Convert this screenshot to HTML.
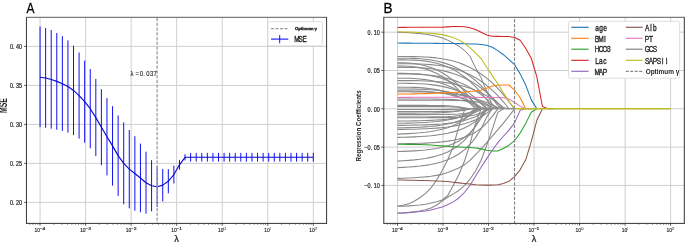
<!DOCTYPE html>
<html><head><meta charset="utf-8"><style>
html,body{margin:0;padding:0;background:#fff;overflow:hidden;width:685px;height:244px;}
svg{display:block;will-change:transform;font-family:"Liberation Sans", sans-serif;}
</style></head><body>
<svg width="685" height="244" viewBox="0 0 685 244">
<rect x="0" y="0" width="685" height="244" fill="#fff"/>
<line x1="40.06" y1="17.3" x2="40.06" y2="223.4" stroke="#cfcfcf" stroke-width="1"/>
<line x1="85.6" y1="17.3" x2="85.6" y2="223.4" stroke="#cfcfcf" stroke-width="1"/>
<line x1="131.14" y1="17.3" x2="131.14" y2="223.4" stroke="#cfcfcf" stroke-width="1"/>
<line x1="176.68" y1="17.3" x2="176.68" y2="223.4" stroke="#cfcfcf" stroke-width="1"/>
<line x1="222.22" y1="17.3" x2="222.22" y2="223.4" stroke="#cfcfcf" stroke-width="1"/>
<line x1="267.76" y1="17.3" x2="267.76" y2="223.4" stroke="#cfcfcf" stroke-width="1"/>
<line x1="313.3" y1="17.3" x2="313.3" y2="223.4" stroke="#cfcfcf" stroke-width="1"/>
<line x1="26.45" y1="202.4" x2="326.6" y2="202.4" stroke="#cfcfcf" stroke-width="1"/>
<line x1="26.45" y1="163.4" x2="326.6" y2="163.4" stroke="#cfcfcf" stroke-width="1"/>
<line x1="26.45" y1="124.4" x2="326.6" y2="124.4" stroke="#cfcfcf" stroke-width="1"/>
<line x1="26.45" y1="85.4" x2="326.6" y2="85.4" stroke="#cfcfcf" stroke-width="1"/>
<line x1="26.45" y1="46.4" x2="326.6" y2="46.4" stroke="#cfcfcf" stroke-width="1"/>
<line x1="40.06" y1="26.5" x2="40.06" y2="127.1" stroke="#1010f0" stroke-width="1"/>
<line x1="45.64" y1="28" x2="45.64" y2="127.8" stroke="#1010f0" stroke-width="1"/>
<line x1="51.21" y1="30" x2="51.21" y2="128.7" stroke="#1010f0" stroke-width="1"/>
<line x1="56.79" y1="33" x2="56.79" y2="129.7" stroke="#1010f0" stroke-width="1"/>
<line x1="62.37" y1="36.1" x2="62.37" y2="130.9" stroke="#1010f0" stroke-width="1"/>
<line x1="67.94" y1="40.4" x2="67.94" y2="132.7" stroke="#1010f0" stroke-width="1"/>
<line x1="73.52" y1="45.7" x2="73.52" y2="135.2" stroke="#1010f0" stroke-width="1"/>
<line x1="79.09" y1="52.5" x2="79.09" y2="138.6" stroke="#1010f0" stroke-width="1"/>
<line x1="84.67" y1="60.6" x2="84.67" y2="142.7" stroke="#1010f0" stroke-width="1"/>
<line x1="90.25" y1="69.1" x2="90.25" y2="148.3" stroke="#1010f0" stroke-width="1"/>
<line x1="95.82" y1="78.95" x2="95.82" y2="156.2" stroke="#1010f0" stroke-width="1"/>
<line x1="101.4" y1="89.2" x2="101.4" y2="165.2" stroke="#1010f0" stroke-width="1"/>
<line x1="106.98" y1="98.1" x2="106.98" y2="175.4" stroke="#1010f0" stroke-width="1"/>
<line x1="112.55" y1="106.2" x2="112.55" y2="185.6" stroke="#1010f0" stroke-width="1"/>
<line x1="118.13" y1="115.4" x2="118.13" y2="195.9" stroke="#1010f0" stroke-width="1"/>
<line x1="123.7" y1="122.4" x2="123.7" y2="204.3" stroke="#1010f0" stroke-width="1"/>
<line x1="129.28" y1="130" x2="129.28" y2="208.3" stroke="#1010f0" stroke-width="1"/>
<line x1="134.86" y1="136.2" x2="134.86" y2="210.7" stroke="#1010f0" stroke-width="1"/>
<line x1="140.43" y1="143.6" x2="140.43" y2="212.3" stroke="#1010f0" stroke-width="1"/>
<line x1="146.01" y1="151.7" x2="146.01" y2="213.7" stroke="#1010f0" stroke-width="1"/>
<line x1="151.59" y1="160.2" x2="151.59" y2="211.3" stroke="#1010f0" stroke-width="1"/>
<line x1="157.16" y1="166" x2="157.16" y2="207" stroke="#1010f0" stroke-width="1"/>
<line x1="162.74" y1="168.9" x2="162.74" y2="201.4" stroke="#1010f0" stroke-width="1"/>
<line x1="168.32" y1="169.2" x2="168.32" y2="193.3" stroke="#1010f0" stroke-width="1"/>
<line x1="173.89" y1="165.7" x2="173.89" y2="183.4" stroke="#1010f0" stroke-width="1"/>
<line x1="179.47" y1="159.9" x2="179.47" y2="169.7" stroke="#1010f0" stroke-width="1"/>
<line x1="185.04" y1="154.2" x2="185.04" y2="160.4" stroke="#1010f0" stroke-width="1"/>
<line x1="190.62" y1="152.9" x2="190.62" y2="161.6" stroke="#1010f0" stroke-width="1"/>
<line x1="196.2" y1="152.9" x2="196.2" y2="161.6" stroke="#1010f0" stroke-width="1"/>
<line x1="201.77" y1="152.9" x2="201.77" y2="161.6" stroke="#1010f0" stroke-width="1"/>
<line x1="207.35" y1="152.9" x2="207.35" y2="161.6" stroke="#1010f0" stroke-width="1"/>
<line x1="212.93" y1="152.9" x2="212.93" y2="161.6" stroke="#1010f0" stroke-width="1"/>
<line x1="218.5" y1="152.9" x2="218.5" y2="161.6" stroke="#1010f0" stroke-width="1"/>
<line x1="224.08" y1="152.9" x2="224.08" y2="161.6" stroke="#1010f0" stroke-width="1"/>
<line x1="229.66" y1="152.9" x2="229.66" y2="161.6" stroke="#1010f0" stroke-width="1"/>
<line x1="235.23" y1="152.9" x2="235.23" y2="161.6" stroke="#1010f0" stroke-width="1"/>
<line x1="240.81" y1="152.9" x2="240.81" y2="161.6" stroke="#1010f0" stroke-width="1"/>
<line x1="246.38" y1="152.9" x2="246.38" y2="161.6" stroke="#1010f0" stroke-width="1"/>
<line x1="251.96" y1="152.9" x2="251.96" y2="161.6" stroke="#1010f0" stroke-width="1"/>
<line x1="257.54" y1="152.9" x2="257.54" y2="161.6" stroke="#1010f0" stroke-width="1"/>
<line x1="263.11" y1="152.9" x2="263.11" y2="161.6" stroke="#1010f0" stroke-width="1"/>
<line x1="268.69" y1="152.9" x2="268.69" y2="161.6" stroke="#1010f0" stroke-width="1"/>
<line x1="274.27" y1="152.9" x2="274.27" y2="161.6" stroke="#1010f0" stroke-width="1"/>
<line x1="279.84" y1="152.9" x2="279.84" y2="161.6" stroke="#1010f0" stroke-width="1"/>
<line x1="285.42" y1="152.9" x2="285.42" y2="161.6" stroke="#1010f0" stroke-width="1"/>
<line x1="290.99" y1="152.9" x2="290.99" y2="161.6" stroke="#1010f0" stroke-width="1"/>
<line x1="296.57" y1="152.9" x2="296.57" y2="161.6" stroke="#1010f0" stroke-width="1"/>
<line x1="302.15" y1="152.9" x2="302.15" y2="161.6" stroke="#1010f0" stroke-width="1"/>
<line x1="307.72" y1="152.9" x2="307.72" y2="161.6" stroke="#1010f0" stroke-width="1"/>
<line x1="313.3" y1="152.9" x2="313.3" y2="161.6" stroke="#1010f0" stroke-width="1"/>
<polyline points="40.06,77.3 45.64,78 51.21,79.5 56.79,81.4 62.37,83.8 67.94,86.55 73.52,90.45 79.09,95.55 84.67,101.65 90.25,108.7 95.82,117.6 101.4,127.2 106.98,136.75 112.55,145.9 118.13,155.65 123.7,163.35 129.28,169.15 134.86,173.45 140.43,177.95 146.01,182.7 151.59,185.75 157.16,186.8 162.74,185.15 168.32,181.25 173.89,174.55 179.47,164.8 185.04,157.3 190.62,157.25 196.2,157.25 201.77,157.25 207.35,157.25 212.93,157.25 218.5,157.25 224.08,157.25 229.66,157.25 235.23,157.25 240.81,157.25 246.38,157.25 251.96,157.25 257.54,157.25 263.11,157.25 268.69,157.25 274.27,157.25 279.84,157.25 285.42,157.25 290.99,157.25 296.57,157.25 302.15,157.25 307.72,157.25 313.3,157.25" fill="none" stroke="#0808d0" stroke-width="1.15" stroke-linejoin="round"/>
<line x1="157.12" y1="17.3" x2="157.12" y2="223.4" stroke="#a4a4a4" stroke-width="1.4" stroke-dasharray="3.3,1.45" stroke-dashoffset="4.1"/>
<text transform="scale(0.8500,1)" x="153.67 159.37 164.47 168.56 172.17 176.43 180.7" y="75.8" font-family='"Liberation Sans", sans-serif' font-weight="normal" font-size="7.0" fill="#262626" stroke="#262626" stroke-width="0.15">λ=0.037</text>
<line x1="29.96" y1="223.4" x2="29.96" y2="224.8" stroke="#333333" stroke-width="0.6"/>
<line x1="33.01" y1="223.4" x2="33.01" y2="224.8" stroke="#333333" stroke-width="0.6"/>
<line x1="35.65" y1="223.4" x2="35.65" y2="224.8" stroke="#333333" stroke-width="0.6"/>
<line x1="37.98" y1="223.4" x2="37.98" y2="224.8" stroke="#333333" stroke-width="0.6"/>
<line x1="40.06" y1="223.4" x2="40.06" y2="225.8" stroke="#333333" stroke-width="0.8"/>
<line x1="53.77" y1="223.4" x2="53.77" y2="224.8" stroke="#333333" stroke-width="0.6"/>
<line x1="61.79" y1="223.4" x2="61.79" y2="224.8" stroke="#333333" stroke-width="0.6"/>
<line x1="67.48" y1="223.4" x2="67.48" y2="224.8" stroke="#333333" stroke-width="0.6"/>
<line x1="71.89" y1="223.4" x2="71.89" y2="224.8" stroke="#333333" stroke-width="0.6"/>
<line x1="75.5" y1="223.4" x2="75.5" y2="224.8" stroke="#333333" stroke-width="0.6"/>
<line x1="78.55" y1="223.4" x2="78.55" y2="224.8" stroke="#333333" stroke-width="0.6"/>
<line x1="81.19" y1="223.4" x2="81.19" y2="224.8" stroke="#333333" stroke-width="0.6"/>
<line x1="83.52" y1="223.4" x2="83.52" y2="224.8" stroke="#333333" stroke-width="0.6"/>
<line x1="85.6" y1="223.4" x2="85.6" y2="225.8" stroke="#333333" stroke-width="0.8"/>
<line x1="99.31" y1="223.4" x2="99.31" y2="224.8" stroke="#333333" stroke-width="0.6"/>
<line x1="107.33" y1="223.4" x2="107.33" y2="224.8" stroke="#333333" stroke-width="0.6"/>
<line x1="113.02" y1="223.4" x2="113.02" y2="224.8" stroke="#333333" stroke-width="0.6"/>
<line x1="117.43" y1="223.4" x2="117.43" y2="224.8" stroke="#333333" stroke-width="0.6"/>
<line x1="121.04" y1="223.4" x2="121.04" y2="224.8" stroke="#333333" stroke-width="0.6"/>
<line x1="124.09" y1="223.4" x2="124.09" y2="224.8" stroke="#333333" stroke-width="0.6"/>
<line x1="126.73" y1="223.4" x2="126.73" y2="224.8" stroke="#333333" stroke-width="0.6"/>
<line x1="129.06" y1="223.4" x2="129.06" y2="224.8" stroke="#333333" stroke-width="0.6"/>
<line x1="131.14" y1="223.4" x2="131.14" y2="225.8" stroke="#333333" stroke-width="0.8"/>
<line x1="144.85" y1="223.4" x2="144.85" y2="224.8" stroke="#333333" stroke-width="0.6"/>
<line x1="152.87" y1="223.4" x2="152.87" y2="224.8" stroke="#333333" stroke-width="0.6"/>
<line x1="158.56" y1="223.4" x2="158.56" y2="224.8" stroke="#333333" stroke-width="0.6"/>
<line x1="162.97" y1="223.4" x2="162.97" y2="224.8" stroke="#333333" stroke-width="0.6"/>
<line x1="166.58" y1="223.4" x2="166.58" y2="224.8" stroke="#333333" stroke-width="0.6"/>
<line x1="169.63" y1="223.4" x2="169.63" y2="224.8" stroke="#333333" stroke-width="0.6"/>
<line x1="172.27" y1="223.4" x2="172.27" y2="224.8" stroke="#333333" stroke-width="0.6"/>
<line x1="174.6" y1="223.4" x2="174.6" y2="224.8" stroke="#333333" stroke-width="0.6"/>
<line x1="176.68" y1="223.4" x2="176.68" y2="225.8" stroke="#333333" stroke-width="0.8"/>
<line x1="190.39" y1="223.4" x2="190.39" y2="224.8" stroke="#333333" stroke-width="0.6"/>
<line x1="198.41" y1="223.4" x2="198.41" y2="224.8" stroke="#333333" stroke-width="0.6"/>
<line x1="204.1" y1="223.4" x2="204.1" y2="224.8" stroke="#333333" stroke-width="0.6"/>
<line x1="208.51" y1="223.4" x2="208.51" y2="224.8" stroke="#333333" stroke-width="0.6"/>
<line x1="212.12" y1="223.4" x2="212.12" y2="224.8" stroke="#333333" stroke-width="0.6"/>
<line x1="215.17" y1="223.4" x2="215.17" y2="224.8" stroke="#333333" stroke-width="0.6"/>
<line x1="217.81" y1="223.4" x2="217.81" y2="224.8" stroke="#333333" stroke-width="0.6"/>
<line x1="220.14" y1="223.4" x2="220.14" y2="224.8" stroke="#333333" stroke-width="0.6"/>
<line x1="222.22" y1="223.4" x2="222.22" y2="225.8" stroke="#333333" stroke-width="0.8"/>
<line x1="235.93" y1="223.4" x2="235.93" y2="224.8" stroke="#333333" stroke-width="0.6"/>
<line x1="243.95" y1="223.4" x2="243.95" y2="224.8" stroke="#333333" stroke-width="0.6"/>
<line x1="249.64" y1="223.4" x2="249.64" y2="224.8" stroke="#333333" stroke-width="0.6"/>
<line x1="254.05" y1="223.4" x2="254.05" y2="224.8" stroke="#333333" stroke-width="0.6"/>
<line x1="257.66" y1="223.4" x2="257.66" y2="224.8" stroke="#333333" stroke-width="0.6"/>
<line x1="260.71" y1="223.4" x2="260.71" y2="224.8" stroke="#333333" stroke-width="0.6"/>
<line x1="263.35" y1="223.4" x2="263.35" y2="224.8" stroke="#333333" stroke-width="0.6"/>
<line x1="265.68" y1="223.4" x2="265.68" y2="224.8" stroke="#333333" stroke-width="0.6"/>
<line x1="267.76" y1="223.4" x2="267.76" y2="225.8" stroke="#333333" stroke-width="0.8"/>
<line x1="281.47" y1="223.4" x2="281.47" y2="224.8" stroke="#333333" stroke-width="0.6"/>
<line x1="289.49" y1="223.4" x2="289.49" y2="224.8" stroke="#333333" stroke-width="0.6"/>
<line x1="295.18" y1="223.4" x2="295.18" y2="224.8" stroke="#333333" stroke-width="0.6"/>
<line x1="299.59" y1="223.4" x2="299.59" y2="224.8" stroke="#333333" stroke-width="0.6"/>
<line x1="303.2" y1="223.4" x2="303.2" y2="224.8" stroke="#333333" stroke-width="0.6"/>
<line x1="306.25" y1="223.4" x2="306.25" y2="224.8" stroke="#333333" stroke-width="0.6"/>
<line x1="308.89" y1="223.4" x2="308.89" y2="224.8" stroke="#333333" stroke-width="0.6"/>
<line x1="311.22" y1="223.4" x2="311.22" y2="224.8" stroke="#333333" stroke-width="0.6"/>
<line x1="313.3" y1="223.4" x2="313.3" y2="225.8" stroke="#333333" stroke-width="0.8"/>
<line x1="24.05" y1="202.4" x2="26.45" y2="202.4" stroke="#333333" stroke-width="0.8"/>
<text transform="scale(0.8500,1)" x="11.69 15.27 18.87 22.46" y="205.14" font-family='"Liberation Sans", sans-serif' font-weight="normal" font-size="6.4" fill="#262626" stroke="#262626" stroke-width="0.22">0.20</text>
<line x1="24.05" y1="163.4" x2="26.45" y2="163.4" stroke="#333333" stroke-width="0.8"/>
<text transform="scale(0.8500,1)" x="11.69 15.27 18.87 22.46" y="166.14" font-family='"Liberation Sans", sans-serif' font-weight="normal" font-size="6.4" fill="#262626" stroke="#262626" stroke-width="0.22">0.25</text>
<line x1="24.05" y1="124.4" x2="26.45" y2="124.4" stroke="#333333" stroke-width="0.8"/>
<text transform="scale(0.8500,1)" x="11.69 15.27 18.89 22.46" y="127.14" font-family='"Liberation Sans", sans-serif' font-weight="normal" font-size="6.4" fill="#262626" stroke="#262626" stroke-width="0.22">0.30</text>
<line x1="24.05" y1="85.4" x2="26.45" y2="85.4" stroke="#333333" stroke-width="0.8"/>
<text transform="scale(0.8500,1)" x="11.69 15.27 18.89 22.46" y="88.14" font-family='"Liberation Sans", sans-serif' font-weight="normal" font-size="6.4" fill="#262626" stroke="#262626" stroke-width="0.22">0.35</text>
<line x1="24.05" y1="46.4" x2="26.45" y2="46.4" stroke="#333333" stroke-width="0.8"/>
<text transform="scale(0.8500,1)" x="11.69 15.27 18.89 22.46" y="49.14" font-family='"Liberation Sans", sans-serif' font-weight="normal" font-size="6.4" fill="#262626" stroke="#262626" stroke-width="0.22">0.40</text>
<text transform="translate(34.59,232.2) scale(0.7926,1)" font-family='"Liberation Sans", sans-serif' font-weight="normal" font-size="6.2" fill="#262626" stroke="#262626" stroke-width="0.18" >10</text>
<text transform="translate(39.72,230.2) scale(1.1619,1)" font-family='"Liberation Sans", sans-serif' font-weight="normal" font-size="4.216" fill="#262626" stroke="#262626" stroke-width="0.2" >−4</text>
<text transform="translate(80.13,232.2) scale(0.7926,1)" font-family='"Liberation Sans", sans-serif' font-weight="normal" font-size="6.2" fill="#262626" stroke="#262626" stroke-width="0.18" >10</text>
<text transform="translate(85.26,230.2) scale(1.1782,1)" font-family='"Liberation Sans", sans-serif' font-weight="normal" font-size="4.216" fill="#262626" stroke="#262626" stroke-width="0.2" >−3</text>
<text transform="translate(125.67,232.2) scale(0.7926,1)" font-family='"Liberation Sans", sans-serif' font-weight="normal" font-size="6.2" fill="#262626" stroke="#262626" stroke-width="0.18" >10</text>
<text transform="translate(130.79,230.2) scale(1.1854,1)" font-family='"Liberation Sans", sans-serif' font-weight="normal" font-size="4.216" fill="#262626" stroke="#262626" stroke-width="0.2" >−2</text>
<text transform="translate(171.21,232.2) scale(0.7926,1)" font-family='"Liberation Sans", sans-serif' font-weight="normal" font-size="6.2" fill="#262626" stroke="#262626" stroke-width="0.18" >10</text>
<text transform="translate(176.33,230.2) scale(1.1837,1)" font-family='"Liberation Sans", sans-serif' font-weight="normal" font-size="4.216" fill="#262626" stroke="#262626" stroke-width="0.2" >−1</text>
<text transform="translate(218.1,232.2) scale(0.7926,1)" font-family='"Liberation Sans", sans-serif' font-weight="normal" font-size="6.2" fill="#262626" stroke="#262626" stroke-width="0.18" >10</text>
<text transform="translate(223.27,230.2) scale(1.2405,1)" font-family='"Liberation Sans", sans-serif' font-weight="normal" font-size="4.216" fill="#262626" >0</text>
<text transform="translate(264.34,232.2) scale(0.7926,1)" font-family='"Liberation Sans", sans-serif' font-weight="normal" font-size="6.2" fill="#262626" stroke="#262626" stroke-width="0.18" >10</text>
<text transform="translate(269.52,230.2) scale(0.6051,1)" font-family='"Liberation Sans", sans-serif' font-weight="normal" font-size="4.216" fill="#262626" >1</text>
<text transform="translate(309.18,232.2) scale(0.7926,1)" font-family='"Liberation Sans", sans-serif' font-weight="normal" font-size="6.2" fill="#262626" stroke="#262626" stroke-width="0.18" >10</text>
<text transform="translate(314.27,230.2) scale(1.3016,1)" font-family='"Liberation Sans", sans-serif' font-weight="normal" font-size="4.216" fill="#262626" >2</text>
<line x1="25.95" y1="17.3" x2="327.1" y2="17.3" stroke="#5c5c5c" stroke-width="1"/>
<line x1="25.95" y1="223.4" x2="327.1" y2="223.4" stroke="#333333" stroke-width="1"/>
<line x1="26.45" y1="17.3" x2="26.45" y2="223.4" stroke="#333333" stroke-width="1"/>
<line x1="326.6" y1="17.3" x2="326.6" y2="223.4" stroke="#333333" stroke-width="1"/>
<rect x="267.9" y="21.6" width="54.5" height="24.2" rx="1.6" fill="#fff" stroke="#d6d6d6" stroke-width="0.8"/>
<line x1="271.1" y1="28.6" x2="288.3" y2="28.6" stroke="#9a9a9a" stroke-width="1.2" stroke-dasharray="3.0,1.45"/>
<text transform="translate(295.03,30) scale(1.0526,1)" font-family='"Liberation Sans", sans-serif' font-weight="bold" font-size="4.0" fill="#262626" stroke="#262626" stroke-width="0.35" >Optimum γ</text>
<line x1="271.1" y1="39.1" x2="288.3" y2="39.1" stroke="#1010f0" stroke-width="1.1"/>
<line x1="279.7" y1="35.1" x2="279.7" y2="43.3" stroke="#1010f0" stroke-width="1"/>
<text transform="scale(0.7800,1)" x="377.16 382.84 387.68" y="42.4" font-family='"Liberation Sans", sans-serif' font-weight="normal" font-size="8.2" fill="#262626" stroke="#262626" stroke-width="0.35">MSE</text>
<text transform="translate(26.58,13) scale(0.7736,1)" font-family='"Liberation Sans", sans-serif' font-weight="normal" font-size="15.4" fill="#000" stroke="#000" stroke-width="0.3" >A</text>
<text transform="translate(174.34,242) scale(1.0207,1)" font-family='"Liberation Sans", sans-serif' font-weight="normal" font-size="8.9" fill="#262626" stroke="#262626" stroke-width="0.25" >λ</text>
<text transform="translate(7.1,112.6) rotate(-90) translate(-0.46,0) scale(0.6625,1)" font-family='"Liberation Sans", sans-serif' font-weight="bold" font-size="10.4" fill="#262626" >MSE</text>
<line x1="397.5" y1="17.3" x2="397.5" y2="223.4" stroke="#cfcfcf" stroke-width="1"/>
<line x1="443.02" y1="17.3" x2="443.02" y2="223.4" stroke="#cfcfcf" stroke-width="1"/>
<line x1="488.54" y1="17.3" x2="488.54" y2="223.4" stroke="#cfcfcf" stroke-width="1"/>
<line x1="534.06" y1="17.3" x2="534.06" y2="223.4" stroke="#cfcfcf" stroke-width="1"/>
<line x1="579.58" y1="17.3" x2="579.58" y2="223.4" stroke="#cfcfcf" stroke-width="1"/>
<line x1="625.1" y1="17.3" x2="625.1" y2="223.4" stroke="#cfcfcf" stroke-width="1"/>
<line x1="670.62" y1="17.3" x2="670.62" y2="223.4" stroke="#cfcfcf" stroke-width="1"/>
<line x1="383.8" y1="185.4" x2="684.3" y2="185.4" stroke="#cfcfcf" stroke-width="1"/>
<line x1="383.8" y1="147.1" x2="684.3" y2="147.1" stroke="#cfcfcf" stroke-width="1"/>
<line x1="383.8" y1="108.8" x2="684.3" y2="108.8" stroke="#cfcfcf" stroke-width="1"/>
<line x1="383.8" y1="70.5" x2="684.3" y2="70.5" stroke="#cfcfcf" stroke-width="1"/>
<line x1="383.8" y1="32.2" x2="684.3" y2="32.2" stroke="#cfcfcf" stroke-width="1"/>
<polyline points="397.5,99 403.07,99 408.65,99 414.22,99.01 419.8,99.02 425.37,99.03 430.94,99.06 436.52,99.11 442.09,99.19 447.66,99.33 453.24,99.59 458.81,100.04 464.39,100.82 469.96,102.21 475.53,104.64 481.11,108.8" fill="none" stroke="#8a8a8a" stroke-width="1.1" stroke-opacity="1.0" stroke-linejoin="round"/>
<polyline points="397.5,100.2 403.07,100.2 408.65,100.2 414.22,100.2 419.8,100.21 425.37,100.21 430.94,100.22 436.52,100.23 442.09,100.25 447.66,100.3 453.24,100.37 458.81,100.5 464.39,100.73 469.96,101.12 475.53,101.83 481.11,103.06 486.68,105.22 492.26,108.8" fill="none" stroke="#8a8a8a" stroke-width="1.1" stroke-opacity="1.0" stroke-linejoin="round"/>
<polyline points="397.5,105.4 403.07,105.4 408.65,105.4 414.22,105.41 419.8,105.41 425.37,105.42 430.94,105.45 436.52,105.5 442.09,105.6 447.66,105.81 453.24,106.23 458.81,107.08 464.39,108.79 469.96,108.8" fill="none" stroke="#8a8a8a" stroke-width="1.1" stroke-opacity="1.0" stroke-linejoin="round"/>
<polyline points="397.5,106.6 403.07,106.6 408.65,106.6 414.22,106.6 419.8,106.6 425.37,106.61 430.94,106.62 436.52,106.63 442.09,106.66 447.66,106.73 453.24,106.86 458.81,107.13 464.39,107.68 469.96,108.79 475.53,108.8" fill="none" stroke="#8a8a8a" stroke-width="1.1" stroke-opacity="1.0" stroke-linejoin="round"/>
<polyline points="397.5,109.5 403.07,109.5 408.65,109.5 414.22,109.5 419.8,109.5 425.37,109.5 430.94,109.49 436.52,109.48 442.09,109.46 447.66,109.42 453.24,109.33 458.81,109.15 464.39,108.8 469.96,108.8" fill="none" stroke="#8a8a8a" stroke-width="1.1" stroke-opacity="1.0" stroke-linejoin="round"/>
<polyline points="397.5,111.5 403.07,111.5 408.65,111.5 414.22,111.5 419.8,111.5 425.37,111.49 430.94,111.48 436.52,111.46 442.09,111.42 447.66,111.34 453.24,111.18 458.81,110.84 464.39,110.17 469.96,108.81 475.53,108.8" fill="none" stroke="#8a8a8a" stroke-width="1.1" stroke-opacity="1.0" stroke-linejoin="round"/>
<polyline points="397.5,113.1 403.07,113.1 408.65,113.09 414.22,113.08 419.8,113.06 425.37,113.02 430.94,112.96 436.52,112.85 442.09,112.65 447.66,112.31 453.24,111.71 458.81,110.66 464.39,108.81 469.96,108.8" fill="none" stroke="#8a8a8a" stroke-width="1.1" stroke-opacity="1.0" stroke-linejoin="round"/>
<polyline points="397.5,114.6 403.07,114.6 408.65,114.6 414.22,114.59 419.8,114.59 425.37,114.58 430.94,114.56 436.52,114.54 442.09,114.49 447.66,114.4 453.24,114.25 458.81,113.99 464.39,113.52 469.96,112.7 475.53,111.26 481.11,108.8" fill="none" stroke="#8a8a8a" stroke-width="1.1" stroke-opacity="1.0" stroke-linejoin="round"/>
<polyline points="397.5,117 403.07,117 408.65,116.99 414.22,116.99 419.8,116.98 425.37,116.95 430.94,116.92 436.52,116.85 442.09,116.74 447.66,116.54 453.24,116.18 458.81,115.56 464.39,114.47 469.96,112.55 475.53,109.18 481.11,108.8" fill="none" stroke="#8a8a8a" stroke-width="1.1" stroke-opacity="1.0" stroke-linejoin="round"/>
<polyline points="397.5,117.7 403.07,117.7 408.65,117.7 414.22,117.7 419.8,117.69 425.37,117.68 430.94,117.67 436.52,117.65 442.09,117.6 447.66,117.53 453.24,117.4 458.81,117.17 464.39,116.77 469.96,116.06 475.53,114.82 481.11,112.65 486.68,108.82 492.26,108.8" fill="none" stroke="#8a8a8a" stroke-width="1.1" stroke-opacity="1.0" stroke-linejoin="round"/>
<polyline points="397.5,121.1 403.07,121.04 408.65,120.97 414.22,120.87 419.8,120.74 425.37,120.56 430.94,120.33 436.52,120.02 442.09,119.62 447.66,119.08 453.24,118.36 458.81,117.41 464.39,116.16 469.96,114.49 475.53,112.28 481.11,109.35 486.68,108.8" fill="none" stroke="#8a8a8a" stroke-width="1.1" stroke-opacity="1.0" stroke-linejoin="round"/>
<polyline points="397.5,123.3 403.07,123.21 408.65,123.09 414.22,122.93 419.8,122.72 425.37,122.44 430.94,122.07 436.52,121.57 442.09,120.92 447.66,120.05 453.24,118.91 458.81,117.38 464.39,115.37 469.96,112.69 475.53,109.14 481.11,108.8" fill="none" stroke="#8a8a8a" stroke-width="1.1" stroke-opacity="1.0" stroke-linejoin="round"/>
<polyline points="397.5,125.4 403.07,125.34 408.65,125.27 414.22,125.17 419.8,125.04 425.37,124.87 430.94,124.64 436.52,124.33 442.09,123.93 447.66,123.39 453.24,122.68 458.81,121.74 464.39,120.49 469.96,118.84 475.53,116.64 481.11,113.74 486.68,109.88 492.26,108.8" fill="none" stroke="#8a8a8a" stroke-width="1.1" stroke-opacity="1.0" stroke-linejoin="round"/>
<polyline points="397.5,127.9 403.07,127.79 408.65,127.65 414.22,127.46 419.8,127.21 425.37,126.88 430.94,126.43 436.52,125.85 442.09,125.07 447.66,124.04 453.24,122.68 458.81,120.87 464.39,118.47 469.96,115.29 475.53,111.08 481.11,108.8" fill="none" stroke="#8a8a8a" stroke-width="1.1" stroke-opacity="1.0" stroke-linejoin="round"/>
<polyline points="397.5,129.5 403.07,129.42 408.65,129.31 414.22,129.18 419.8,129 425.37,128.77 430.94,128.48 436.52,128.11 442.09,127.62 447.66,127 453.24,126.19 458.81,125.15 464.39,123.81 469.96,122.09 475.53,119.87 481.11,117 486.68,113.31 492.26,108.8" fill="none" stroke="#8a8a8a" stroke-width="1.1" stroke-opacity="1.0" stroke-linejoin="round"/>
<polyline points="397.5,134.1 403.07,133.89 408.65,133.62 414.22,133.27 419.8,132.82 425.37,132.23 430.94,131.48 436.52,130.52 442.09,129.27 447.66,127.66 453.24,125.59 458.81,122.93 464.39,119.49 469.96,115.06 475.53,109.35 481.11,108.8" fill="none" stroke="#8a8a8a" stroke-width="1.1" stroke-opacity="1.0" stroke-linejoin="round"/>
<polyline points="397.5,137.4 403.07,137.26 408.65,137.09 414.22,136.86 419.8,136.57 425.37,136.19 430.94,135.71 436.52,135.08 442.09,134.28 447.66,133.24 453.24,131.9 458.81,130.17 464.39,127.95 469.96,125.08 475.53,121.39 481.11,116.63 486.68,110.49 492.26,108.8" fill="none" stroke="#8a8a8a" stroke-width="1.1" stroke-opacity="1.0" stroke-linejoin="round"/>
<polyline points="397.5,143.8 403.07,143.73 408.65,143.63 414.22,143.49 419.8,143.32 425.37,143.09 430.94,142.78 436.52,142.38 442.09,141.84 447.66,141.12 453.24,140.18 458.81,138.92 464.39,137.26 469.96,135.06 475.53,132.14 481.11,128.26 486.68,123.13 492.26,116.32 497.83,108.8" fill="none" stroke="#8a8a8a" stroke-width="1.1" stroke-opacity="1.0" stroke-linejoin="round"/>
<polyline points="397.5,151.5 403.07,151.34 408.65,151.13 414.22,150.85 419.8,150.47 425.37,149.98 430.94,149.32 436.52,148.46 442.09,147.31 447.66,145.78 453.24,143.76 458.81,141.07 464.39,137.52 469.96,132.8 475.53,126.55 481.11,118.27 486.68,108.8" fill="none" stroke="#8a8a8a" stroke-width="1.1" stroke-opacity="1.0" stroke-linejoin="round"/>
<polyline points="397.5,161.1 403.07,160.8 408.65,160.41 414.22,159.91 419.8,159.27 425.37,158.44 430.94,157.37 436.52,156 442.09,154.22 447.66,151.94 453.24,148.99 458.81,145.19 464.39,140.3 469.96,133.99 475.53,125.86 481.11,115.38 486.68,108.8" fill="none" stroke="#8a8a8a" stroke-width="1.1" stroke-opacity="1.0" stroke-linejoin="round"/>
<polyline points="397.5,167.6 403.07,167.34 408.65,167.01 414.22,166.59 419.8,166.04 425.37,165.34 430.94,164.43 436.52,163.26 442.09,161.75 447.66,159.8 453.24,157.29 458.81,154.06 464.39,149.89 469.96,144.52 475.53,137.59 481.11,128.67 486.68,117.17 492.26,108.8" fill="none" stroke="#8a8a8a" stroke-width="1.1" stroke-opacity="1.0" stroke-linejoin="round"/>
<polyline points="397.5,56.5 403.07,56.5 408.65,56.52 414.22,56.59 419.8,56.72 425.37,56.97 430.94,57.35 436.52,57.92 442.09,58.7 447.66,59.74 453.24,61.09 458.81,62.79 464.39,64.88 469.96,67.41 475.53,70.44 481.11,74 486.68,78.15 492.26,82.95 497.83,88.44 503.4,94.68 508.98,101.72 514.55,108.8" fill="none" stroke="#8a8a8a" stroke-width="1.1" stroke-opacity="1.0" stroke-linejoin="round"/>
<polyline points="397.5,58.2 403.07,58.21 408.65,58.27 414.22,58.42 419.8,58.72 425.37,59.22 430.94,59.96 436.52,60.99 442.09,62.37 447.66,64.13 453.24,66.34 458.81,69.03 464.39,72.26 469.96,76.08 475.53,80.53 481.11,85.66 486.68,91.53 492.26,98.18 497.83,105.65 503.4,108.8" fill="none" stroke="#8a8a8a" stroke-width="1.1" stroke-opacity="1.0" stroke-linejoin="round"/>
<polyline points="397.5,59.9 403.07,59.91 408.65,59.98 414.22,60.16 419.8,60.52 425.37,61.12 430.94,62 436.52,63.23 442.09,64.88 447.66,66.99 453.24,69.62 458.81,72.84 464.39,76.7 469.96,81.26 475.53,86.58 481.11,92.71 486.68,99.72 492.26,107.67 497.83,108.8" fill="none" stroke="#8a8a8a" stroke-width="1.1" stroke-opacity="1.0" stroke-linejoin="round"/>
<polyline points="397.5,62.8 403.07,62.84 408.65,63.07 414.22,63.57 419.8,64.43 425.37,65.72 430.94,67.49 436.52,69.8 442.09,72.7 447.66,76.25 453.24,80.49 458.81,85.46 464.39,91.22 469.96,97.79 475.53,105.23 481.11,108.8" fill="none" stroke="#8a8a8a" stroke-width="1.1" stroke-opacity="1.0" stroke-linejoin="round"/>
<polyline points="397.5,63.8 403.07,63.8 408.65,63.82 414.22,63.89 419.8,64.02 425.37,64.26 430.94,64.65 436.52,65.21 442.09,65.99 447.66,67.02 453.24,68.37 458.81,70.05 464.39,72.13 469.96,74.65 475.53,77.66 481.11,81.2 486.68,85.33 492.26,90.1 497.83,95.56 503.4,101.77 508.98,108.77 514.55,108.8" fill="none" stroke="#8a8a8a" stroke-width="1.1" stroke-opacity="1.0" stroke-linejoin="round"/>
<polyline points="397.5,65.9 403.07,65.95 408.65,66.19 414.22,66.72 419.8,67.64 425.37,69.01 430.94,70.89 436.52,73.35 442.09,76.44 447.66,80.22 453.24,84.73 458.81,90.03 464.39,96.16 469.96,103.16 475.53,108.8" fill="none" stroke="#8a8a8a" stroke-width="1.1" stroke-opacity="1.0" stroke-linejoin="round"/>
<polyline points="397.5,67.4 403.07,67.41 408.65,67.45 414.22,67.56 419.8,67.79 425.37,68.16 430.94,68.72 436.52,69.49 442.09,70.53 447.66,71.85 453.24,73.51 458.81,75.53 464.39,77.95 469.96,80.81 475.53,84.15 481.11,88.01 486.68,92.41 492.26,97.4 497.83,103.01 503.4,108.8" fill="none" stroke="#8a8a8a" stroke-width="1.1" stroke-opacity="1.0" stroke-linejoin="round"/>
<polyline points="397.5,73.4 403.07,73.42 408.65,73.51 414.22,73.73 419.8,74.15 425.37,74.79 430.94,75.72 436.52,76.97 442.09,78.59 447.66,80.62 453.24,83.1 458.81,86.07 464.39,89.56 469.96,93.62 475.53,98.29 481.11,103.59 486.68,108.8" fill="none" stroke="#8a8a8a" stroke-width="1.1" stroke-opacity="1.0" stroke-linejoin="round"/>
<polyline points="397.5,74 403.07,74.01 408.65,74.05 414.22,74.17 419.8,74.39 425.37,74.76 430.94,75.32 436.52,76.1 442.09,77.13 447.66,78.46 453.24,80.12 458.81,82.14 464.39,84.57 469.96,87.44 475.53,90.79 481.11,94.65 486.68,99.06 492.26,104.06 497.83,108.8" fill="none" stroke="#8a8a8a" stroke-width="1.1" stroke-opacity="1.0" stroke-linejoin="round"/>
<polyline points="397.5,78.2 403.07,78.22 408.65,78.31 414.22,78.54 419.8,78.96 425.37,79.62 430.94,80.56 436.52,81.84 442.09,83.48 447.66,85.55 453.24,88.07 458.81,91.09 464.39,94.64 469.96,98.77 475.53,103.52 481.11,108.8" fill="none" stroke="#8a8a8a" stroke-width="1.1" stroke-opacity="1.0" stroke-linejoin="round"/>
<polyline points="397.5,80.6 403.07,80.6 408.65,80.62 414.22,80.66 419.8,80.76 425.37,80.93 430.94,81.2 436.52,81.59 442.09,82.15 447.66,82.88 453.24,83.83 458.81,85.02 464.39,86.49 469.96,88.27 475.53,90.4 481.11,92.9 486.68,95.82 492.26,99.2 497.83,103.06 503.4,107.44 508.98,108.8" fill="none" stroke="#8a8a8a" stroke-width="1.1" stroke-opacity="1.0" stroke-linejoin="round"/>
<polyline points="397.5,83.3 403.07,83.31 408.65,83.35 414.22,83.46 419.8,83.68 425.37,84.04 430.94,84.59 436.52,85.34 442.09,86.35 447.66,87.64 453.24,89.26 458.81,91.23 464.39,93.59 469.96,96.39 475.53,99.65 481.11,103.41 486.68,107.7 492.26,108.8" fill="none" stroke="#8a8a8a" stroke-width="1.1" stroke-opacity="1.0" stroke-linejoin="round"/>
<polyline points="397.5,87.2 403.07,87.21 408.65,87.26 414.22,87.39 419.8,87.66 425.37,88.1 430.94,88.75 436.52,89.66 442.09,90.87 447.66,92.43 453.24,94.37 458.81,96.74 464.39,99.59 469.96,102.95 475.53,106.88 481.11,108.8" fill="none" stroke="#8a8a8a" stroke-width="1.1" stroke-opacity="1.0" stroke-linejoin="round"/>
<polyline points="397.5,89 403.07,89 408.65,89.03 414.22,89.1 419.8,89.24 425.37,89.46 430.94,89.8 436.52,90.27 442.09,90.89 447.66,91.7 453.24,92.7 458.81,93.92 464.39,95.39 469.96,97.13 475.53,99.15 481.11,101.49 486.68,104.15 492.26,107.17 497.83,108.8" fill="none" stroke="#8a8a8a" stroke-width="1.1" stroke-opacity="1.0" stroke-linejoin="round"/>
<polyline points="397.5,90.8 403.07,90.8 408.65,90.84 414.22,90.93 419.8,91.11 425.37,91.4 430.94,91.84 436.52,92.45 442.09,93.27 447.66,94.31 453.24,95.62 458.81,97.21 464.39,99.12 469.96,101.38 475.53,104.02 481.11,107.05 486.68,108.8" fill="none" stroke="#8a8a8a" stroke-width="1.1" stroke-opacity="1.0" stroke-linejoin="round"/>
<polyline points="397.5,91.8 403.07,91.8 408.65,91.81 414.22,91.84 419.8,91.91 425.37,92.03 430.94,92.22 436.52,92.5 442.09,92.89 447.66,93.41 453.24,94.08 458.81,94.92 464.39,95.96 469.96,97.21 475.53,98.71 481.11,100.48 486.68,102.54 492.26,104.92 497.83,107.64 503.4,108.8" fill="none" stroke="#8a8a8a" stroke-width="1.1" stroke-opacity="1.0" stroke-linejoin="round"/>
<polyline points="397.5,206 403.07,205.24 408.65,203.74 414.22,201.29 419.8,197.81 425.37,193.64 430.94,187.9 436.52,180.23 442.09,170.77 447.66,159.92 453.24,146.45 458.81,126.88 464.39,110.15 469.96,108.8" fill="none" stroke="#8a8a8a" stroke-width="1.1" stroke-opacity="1.0" stroke-linejoin="round"/>
<polyline points="397.5,206.3 403.07,206.19 408.65,205.89 414.22,205.47 419.8,204.97 425.37,204.17 430.94,203.05 436.52,201.7 442.09,199.96 447.66,195.69 453.24,185.53 458.81,174.67 464.39,161.3 469.96,144.14 475.53,123.2 481.11,108.8" fill="none" stroke="#8a8a8a" stroke-width="1.1" stroke-opacity="1.0" stroke-linejoin="round"/>
<polyline points="397.5,213 403.07,212.83 408.65,212.39 414.22,211.76 419.8,211.01 425.37,209.82 430.94,208.06 436.52,205.28 442.09,201.03 447.66,197.29 453.24,194.09 458.81,190.45 464.39,185.57 469.96,179.23 475.53,171.04 481.11,160.24 486.68,145.38 492.26,129.37 497.83,112.41 503.4,108.8" fill="none" stroke="#8a8a8a" stroke-width="1.1" stroke-opacity="1.0" stroke-linejoin="round"/>
<polyline points="397.5,178.4 403.07,178.28 408.65,178.03 414.22,177.7 419.8,177.31 425.37,176.85 430.94,176.22 436.52,175.41 442.09,174.35 447.66,172.57 453.24,170.33 458.81,167.91 464.39,164.82 469.96,160.31 475.53,154.69 481.11,148.84 486.68,142.68 492.26,136.2 497.83,129.73 503.4,123.18 508.98,116.2 514.55,108.8" fill="none" stroke="#8a8a8a" stroke-width="1.1" stroke-opacity="1.0" stroke-linejoin="round"/>
<polyline points="397.5,32.3 403.07,32.41 408.65,32.69 414.22,33.1 419.8,33.58 425.37,34.22 430.94,35.14 436.52,36.33 442.09,37.86 447.66,40.2 453.24,42.9 458.81,46.16 464.39,50.23 469.96,56.26 475.53,67.82 481.11,77.79 486.68,91.2 492.26,104.92 497.83,108.8" fill="none" stroke="#7f7f7f" stroke-width="1.0" stroke-opacity="1.0" stroke-linejoin="round"/>
<polyline points="397.5,43.1 403.07,43.11 408.65,43.13 414.22,43.16 419.8,43.2 425.37,43.25 430.94,43.31 436.52,43.36 442.09,43.42 447.66,43.48 453.24,43.55 458.81,43.64 464.39,43.75 469.96,43.9 475.53,44.09 481.11,44.49 486.68,45.3 492.26,47.23 497.83,50.59 503.4,54.71 508.98,59.57 514.55,64.53 520.13,73.86 525.7,85.1 531.27,99.88 536.85,108.8" fill="none" stroke="#1f77b4" stroke-width="1.05" stroke-opacity="1.0" stroke-linejoin="round"/>
<polyline points="397.5,94.1 403.07,94.05 408.65,93.98 414.22,93.87 419.8,93.75 425.37,93.62 430.94,93.47 436.52,93.3 442.09,93.09 447.66,92.85 453.24,92.57 458.81,92.27 464.39,91.94 469.96,91.56 475.53,91.06 481.11,90.34 486.68,88.35 492.26,86.08 497.83,85.29 503.4,85.08 508.98,85.01 514.55,90.04 520.13,97.76 525.7,108.8 531.27,108.8" fill="none" stroke="#ff7f0e" stroke-width="1.05" stroke-opacity="1.0" stroke-linejoin="round"/>
<polyline points="397.5,144.3 403.07,144.32 408.65,144.39 414.22,144.48 419.8,144.6 425.37,144.78 430.94,145.07 436.52,145.45 442.09,145.86 447.66,146.28 453.24,146.66 458.81,146.98 464.39,147.26 469.96,147.58 475.53,148.02 481.11,148.87 486.68,150.19 492.26,150.97 497.83,150.95 503.4,148.45 508.98,145.2 514.55,140.55 520.13,133.11 525.7,123.39 531.27,112.2 536.85,108.8" fill="none" stroke="#2ca02c" stroke-width="1.05" stroke-opacity="1.0" stroke-linejoin="round"/>
<polyline points="397.5,27.4 403.07,27.38 408.65,27.35 414.22,27.33 419.8,27.3 425.37,27.28 430.94,27.26 436.52,27.23 442.09,27.16 447.66,26.88 453.24,26.54 458.81,26.4 464.39,26.68 469.96,27.74 475.53,29.57 481.11,32.27 486.68,35.06 492.26,36.24 497.83,36.36 503.4,36.45 508.98,36.56 514.55,37.41 520.13,40.2 525.7,48.31 531.27,58.26 536.85,76.83 542.42,106.52 547.99,108.8 553.57,108.8" fill="none" stroke="#d62728" stroke-width="1.05" stroke-opacity="1.0" stroke-linejoin="round"/>
<polyline points="397.5,213.1 403.07,212.98 408.65,212.65 414.22,212.17 419.8,211.58 425.37,210.92 430.94,209.91 436.52,208.54 442.09,206.9 447.66,204.77 453.24,201.87 458.81,197.97 464.39,192.52 469.96,185.25 475.53,176.2 481.11,167.2 486.68,158.62 492.26,150.21 497.83,142.6 503.4,136.27 508.98,130.18 514.55,122.85 520.13,110.36 525.7,108.8" fill="none" stroke="#9467bd" stroke-width="1.05" stroke-opacity="1.0" stroke-linejoin="round"/>
<polyline points="397.5,180 403.07,180.06 408.65,180.15 414.22,180.27 419.8,180.4 425.37,180.54 430.94,180.72 436.52,180.94 442.09,181.21 447.66,181.58 453.24,182.17 458.81,182.86 464.39,183.52 469.96,184.1 475.53,184.71 481.11,185.09 486.68,185.1 492.26,185.1 497.83,184.77 503.4,183.47 508.98,181.32 514.55,176.55 520.13,169.85 525.7,159.85 531.27,141.6 536.85,120.26 542.42,108.8" fill="none" stroke="#8c564b" stroke-width="1.05" stroke-opacity="1.0" stroke-linejoin="round"/>
<polyline points="397.5,97.4 403.07,97.38 408.65,97.37 414.22,97.35 419.8,97.33 425.37,97.31 430.94,97.3 436.52,97.28 442.09,97.25 447.66,97.23 453.24,97.21 458.81,97.2 464.39,97.23 469.96,97.3 475.53,97.35 481.11,97.4 486.68,97.44 492.26,97.51 497.83,97.6 503.4,97.74 508.98,99.01 514.55,102.52 520.13,106.14 525.7,108.8 531.27,108.8" fill="none" stroke="#e377c2" stroke-width="1.05" stroke-opacity="1.0" stroke-linejoin="round"/>
<polyline points="397.5,31.8 403.07,31.9 408.65,32.08 414.22,32.32 419.8,32.59 425.37,32.91 430.94,33.33 436.52,33.88 442.09,34.62 447.66,35.88 453.24,37.62 458.81,39.92 464.39,43.28 469.96,47.69 475.53,52.88 481.11,58.53 486.68,67.28 492.26,75.62 497.83,83.73 503.4,92.86 508.98,101.36 514.55,108.8" fill="none" stroke="#bcbd22" stroke-width="1.05" stroke-opacity="1.0" stroke-linejoin="round"/>
<line x1="464.4" y1="108.8" x2="514.5" y2="108.8" stroke="#8a8a8a" stroke-width="1.0"/>
<line x1="514.5" y1="108.8" x2="670.62" y2="108.8" stroke="#bcbd22" stroke-width="1.5"/>
<line x1="514.51" y1="17.3" x2="514.51" y2="223.4" stroke="#858585" stroke-width="1.15" stroke-dasharray="3.35,1.45" stroke-dashoffset="3.0"/>
<line x1="387.4" y1="223.4" x2="387.4" y2="224.8" stroke="#333333" stroke-width="0.6"/>
<line x1="390.45" y1="223.4" x2="390.45" y2="224.8" stroke="#333333" stroke-width="0.6"/>
<line x1="393.09" y1="223.4" x2="393.09" y2="224.8" stroke="#333333" stroke-width="0.6"/>
<line x1="395.42" y1="223.4" x2="395.42" y2="224.8" stroke="#333333" stroke-width="0.6"/>
<line x1="397.5" y1="223.4" x2="397.5" y2="225.8" stroke="#333333" stroke-width="0.8"/>
<line x1="411.2" y1="223.4" x2="411.2" y2="224.8" stroke="#333333" stroke-width="0.6"/>
<line x1="419.22" y1="223.4" x2="419.22" y2="224.8" stroke="#333333" stroke-width="0.6"/>
<line x1="424.91" y1="223.4" x2="424.91" y2="224.8" stroke="#333333" stroke-width="0.6"/>
<line x1="429.32" y1="223.4" x2="429.32" y2="224.8" stroke="#333333" stroke-width="0.6"/>
<line x1="432.92" y1="223.4" x2="432.92" y2="224.8" stroke="#333333" stroke-width="0.6"/>
<line x1="435.97" y1="223.4" x2="435.97" y2="224.8" stroke="#333333" stroke-width="0.6"/>
<line x1="438.61" y1="223.4" x2="438.61" y2="224.8" stroke="#333333" stroke-width="0.6"/>
<line x1="440.94" y1="223.4" x2="440.94" y2="224.8" stroke="#333333" stroke-width="0.6"/>
<line x1="443.02" y1="223.4" x2="443.02" y2="225.8" stroke="#333333" stroke-width="0.8"/>
<line x1="456.72" y1="223.4" x2="456.72" y2="224.8" stroke="#333333" stroke-width="0.6"/>
<line x1="464.74" y1="223.4" x2="464.74" y2="224.8" stroke="#333333" stroke-width="0.6"/>
<line x1="470.43" y1="223.4" x2="470.43" y2="224.8" stroke="#333333" stroke-width="0.6"/>
<line x1="474.84" y1="223.4" x2="474.84" y2="224.8" stroke="#333333" stroke-width="0.6"/>
<line x1="478.44" y1="223.4" x2="478.44" y2="224.8" stroke="#333333" stroke-width="0.6"/>
<line x1="481.49" y1="223.4" x2="481.49" y2="224.8" stroke="#333333" stroke-width="0.6"/>
<line x1="484.13" y1="223.4" x2="484.13" y2="224.8" stroke="#333333" stroke-width="0.6"/>
<line x1="486.46" y1="223.4" x2="486.46" y2="224.8" stroke="#333333" stroke-width="0.6"/>
<line x1="488.54" y1="223.4" x2="488.54" y2="225.8" stroke="#333333" stroke-width="0.8"/>
<line x1="502.24" y1="223.4" x2="502.24" y2="224.8" stroke="#333333" stroke-width="0.6"/>
<line x1="510.26" y1="223.4" x2="510.26" y2="224.8" stroke="#333333" stroke-width="0.6"/>
<line x1="515.95" y1="223.4" x2="515.95" y2="224.8" stroke="#333333" stroke-width="0.6"/>
<line x1="520.36" y1="223.4" x2="520.36" y2="224.8" stroke="#333333" stroke-width="0.6"/>
<line x1="523.96" y1="223.4" x2="523.96" y2="224.8" stroke="#333333" stroke-width="0.6"/>
<line x1="527.01" y1="223.4" x2="527.01" y2="224.8" stroke="#333333" stroke-width="0.6"/>
<line x1="529.65" y1="223.4" x2="529.65" y2="224.8" stroke="#333333" stroke-width="0.6"/>
<line x1="531.98" y1="223.4" x2="531.98" y2="224.8" stroke="#333333" stroke-width="0.6"/>
<line x1="534.06" y1="223.4" x2="534.06" y2="225.8" stroke="#333333" stroke-width="0.8"/>
<line x1="547.76" y1="223.4" x2="547.76" y2="224.8" stroke="#333333" stroke-width="0.6"/>
<line x1="555.78" y1="223.4" x2="555.78" y2="224.8" stroke="#333333" stroke-width="0.6"/>
<line x1="561.47" y1="223.4" x2="561.47" y2="224.8" stroke="#333333" stroke-width="0.6"/>
<line x1="565.88" y1="223.4" x2="565.88" y2="224.8" stroke="#333333" stroke-width="0.6"/>
<line x1="569.48" y1="223.4" x2="569.48" y2="224.8" stroke="#333333" stroke-width="0.6"/>
<line x1="572.53" y1="223.4" x2="572.53" y2="224.8" stroke="#333333" stroke-width="0.6"/>
<line x1="575.17" y1="223.4" x2="575.17" y2="224.8" stroke="#333333" stroke-width="0.6"/>
<line x1="577.5" y1="223.4" x2="577.5" y2="224.8" stroke="#333333" stroke-width="0.6"/>
<line x1="579.58" y1="223.4" x2="579.58" y2="225.8" stroke="#333333" stroke-width="0.8"/>
<line x1="593.28" y1="223.4" x2="593.28" y2="224.8" stroke="#333333" stroke-width="0.6"/>
<line x1="601.3" y1="223.4" x2="601.3" y2="224.8" stroke="#333333" stroke-width="0.6"/>
<line x1="606.99" y1="223.4" x2="606.99" y2="224.8" stroke="#333333" stroke-width="0.6"/>
<line x1="611.4" y1="223.4" x2="611.4" y2="224.8" stroke="#333333" stroke-width="0.6"/>
<line x1="615" y1="223.4" x2="615" y2="224.8" stroke="#333333" stroke-width="0.6"/>
<line x1="618.05" y1="223.4" x2="618.05" y2="224.8" stroke="#333333" stroke-width="0.6"/>
<line x1="620.69" y1="223.4" x2="620.69" y2="224.8" stroke="#333333" stroke-width="0.6"/>
<line x1="623.02" y1="223.4" x2="623.02" y2="224.8" stroke="#333333" stroke-width="0.6"/>
<line x1="625.1" y1="223.4" x2="625.1" y2="225.8" stroke="#333333" stroke-width="0.8"/>
<line x1="638.8" y1="223.4" x2="638.8" y2="224.8" stroke="#333333" stroke-width="0.6"/>
<line x1="646.82" y1="223.4" x2="646.82" y2="224.8" stroke="#333333" stroke-width="0.6"/>
<line x1="652.51" y1="223.4" x2="652.51" y2="224.8" stroke="#333333" stroke-width="0.6"/>
<line x1="656.92" y1="223.4" x2="656.92" y2="224.8" stroke="#333333" stroke-width="0.6"/>
<line x1="660.52" y1="223.4" x2="660.52" y2="224.8" stroke="#333333" stroke-width="0.6"/>
<line x1="663.57" y1="223.4" x2="663.57" y2="224.8" stroke="#333333" stroke-width="0.6"/>
<line x1="666.21" y1="223.4" x2="666.21" y2="224.8" stroke="#333333" stroke-width="0.6"/>
<line x1="668.54" y1="223.4" x2="668.54" y2="224.8" stroke="#333333" stroke-width="0.6"/>
<line x1="670.62" y1="223.4" x2="670.62" y2="225.8" stroke="#333333" stroke-width="0.8"/>
<line x1="381.4" y1="185.4" x2="383.8" y2="185.4" stroke="#333333" stroke-width="0.8"/>
<text transform="scale(0.8500,1)" x="428.84 432.51 436.1 439.6 443.28" y="188.14" font-family='"Liberation Sans", sans-serif' font-weight="normal" font-size="6.4" fill="#262626" stroke="#262626" stroke-width="0.22">−0.10</text>
<line x1="381.4" y1="147.1" x2="383.8" y2="147.1" stroke="#333333" stroke-width="0.8"/>
<text transform="scale(0.8500,1)" x="428.84 432.51 436.1 439.69 443.29" y="149.84" font-family='"Liberation Sans", sans-serif' font-weight="normal" font-size="6.4" fill="#262626" stroke="#262626" stroke-width="0.22">−0.05</text>
<line x1="381.4" y1="108.8" x2="383.8" y2="108.8" stroke="#333333" stroke-width="0.8"/>
<text transform="scale(0.8500,1)" x="432.51 436.1 439.69 443.28" y="111.54" font-family='"Liberation Sans", sans-serif' font-weight="normal" font-size="6.4" fill="#262626" stroke="#262626" stroke-width="0.22">0.00</text>
<line x1="381.4" y1="70.5" x2="383.8" y2="70.5" stroke="#333333" stroke-width="0.8"/>
<text transform="scale(0.8500,1)" x="432.51 436.1 439.69 443.29" y="73.24" font-family='"Liberation Sans", sans-serif' font-weight="normal" font-size="6.4" fill="#262626" stroke="#262626" stroke-width="0.22">0.05</text>
<line x1="381.4" y1="32.2" x2="383.8" y2="32.2" stroke="#333333" stroke-width="0.8"/>
<text transform="scale(0.8500,1)" x="432.51 436.1 439.6 443.28" y="34.94" font-family='"Liberation Sans", sans-serif' font-weight="normal" font-size="6.4" fill="#262626" stroke="#262626" stroke-width="0.22">0.10</text>
<text transform="translate(392.03,232.2) scale(0.7926,1)" font-family='"Liberation Sans", sans-serif' font-weight="normal" font-size="6.2" fill="#262626" stroke="#262626" stroke-width="0.18" >10</text>
<text transform="translate(397.16,230.2) scale(1.1619,1)" font-family='"Liberation Sans", sans-serif' font-weight="normal" font-size="4.216" fill="#262626" stroke="#262626" stroke-width="0.2" >−4</text>
<text transform="translate(437.55,232.2) scale(0.7926,1)" font-family='"Liberation Sans", sans-serif' font-weight="normal" font-size="6.2" fill="#262626" stroke="#262626" stroke-width="0.18" >10</text>
<text transform="translate(442.68,230.2) scale(1.1782,1)" font-family='"Liberation Sans", sans-serif' font-weight="normal" font-size="4.216" fill="#262626" stroke="#262626" stroke-width="0.2" >−3</text>
<text transform="translate(483.07,232.2) scale(0.7926,1)" font-family='"Liberation Sans", sans-serif' font-weight="normal" font-size="6.2" fill="#262626" stroke="#262626" stroke-width="0.18" >10</text>
<text transform="translate(488.19,230.2) scale(1.1854,1)" font-family='"Liberation Sans", sans-serif' font-weight="normal" font-size="4.216" fill="#262626" stroke="#262626" stroke-width="0.2" >−2</text>
<text transform="translate(528.59,232.2) scale(0.7926,1)" font-family='"Liberation Sans", sans-serif' font-weight="normal" font-size="6.2" fill="#262626" stroke="#262626" stroke-width="0.18" >10</text>
<text transform="translate(533.71,230.2) scale(1.1837,1)" font-family='"Liberation Sans", sans-serif' font-weight="normal" font-size="4.216" fill="#262626" stroke="#262626" stroke-width="0.2" >−1</text>
<text transform="translate(575.46,232.2) scale(0.7926,1)" font-family='"Liberation Sans", sans-serif' font-weight="normal" font-size="6.2" fill="#262626" stroke="#262626" stroke-width="0.18" >10</text>
<text transform="translate(580.63,230.2) scale(1.2405,1)" font-family='"Liberation Sans", sans-serif' font-weight="normal" font-size="4.216" fill="#262626" >0</text>
<text transform="translate(621.68,232.2) scale(0.7926,1)" font-family='"Liberation Sans", sans-serif' font-weight="normal" font-size="6.2" fill="#262626" stroke="#262626" stroke-width="0.18" >10</text>
<text transform="translate(626.86,230.2) scale(0.6051,1)" font-family='"Liberation Sans", sans-serif' font-weight="normal" font-size="4.216" fill="#262626" >1</text>
<text transform="translate(666.5,232.2) scale(0.7926,1)" font-family='"Liberation Sans", sans-serif' font-weight="normal" font-size="6.2" fill="#262626" stroke="#262626" stroke-width="0.18" >10</text>
<text transform="translate(671.59,230.2) scale(1.3016,1)" font-family='"Liberation Sans", sans-serif' font-weight="normal" font-size="4.216" fill="#262626" >2</text>
<line x1="383.3" y1="17.3" x2="684.8" y2="17.3" stroke="#5c5c5c" stroke-width="1"/>
<line x1="383.3" y1="223.4" x2="684.8" y2="223.4" stroke="#333333" stroke-width="1"/>
<line x1="383.8" y1="17.3" x2="383.8" y2="223.4" stroke="#333333" stroke-width="1"/>
<line x1="684.3" y1="17.3" x2="684.3" y2="223.4" stroke="#333333" stroke-width="1"/>
<rect x="568.5" y="21.3" width="111.2" height="56.9" rx="1.6" fill="#fff" stroke="#d6d6d6" stroke-width="0.8"/>
<line x1="571.3" y1="27.3" x2="588.6" y2="27.3" stroke="#1f77b4" stroke-width="1.15"/>
<text transform="scale(0.8000,1)" x="743.98 749.12 753.92" y="30.6" font-family='"Liberation Sans", sans-serif' font-weight="normal" font-size="8.2" fill="#262626" stroke="#262626" stroke-width="0.35">age</text>
<line x1="571.3" y1="38.3" x2="588.6" y2="38.3" stroke="#ff7f0e" stroke-width="1.15"/>
<text transform="scale(0.8000,1)" x="743.58 747.9 755.05" y="41.6" font-family='"Liberation Sans", sans-serif' font-weight="normal" font-size="8.2" fill="#262626" stroke="#262626" stroke-width="0.35">BMI</text>
<line x1="571.3" y1="49.2" x2="588.6" y2="49.2" stroke="#2ca02c" stroke-width="1.15"/>
<text transform="scale(0.8000,1)" x="743.47 748.3 753 758.81" y="52.5" font-family='"Liberation Sans", sans-serif' font-weight="normal" font-size="8.2" fill="#262626" stroke="#262626" stroke-width="0.35">HCO3</text>
<line x1="571.3" y1="60.3" x2="588.6" y2="60.3" stroke="#d62728" stroke-width="1.15"/>
<text transform="scale(0.8000,1)" x="743.96 748.86 754.07" y="63.6" font-family='"Liberation Sans", sans-serif' font-weight="normal" font-size="8.2" fill="#262626" stroke="#262626" stroke-width="0.35">Lac</text>
<line x1="571.3" y1="71.3" x2="588.6" y2="71.3" stroke="#9467bd" stroke-width="1.15"/>
<text transform="scale(0.8000,1)" x="743.02 748.58 753.33" y="74.6" font-family='"Liberation Sans", sans-serif' font-weight="normal" font-size="8.2" fill="#262626" stroke="#262626" stroke-width="0.35">MAP</text>
<line x1="625.8" y1="27.3" x2="642.6" y2="27.3" stroke="#8c564b" stroke-width="1.15"/>
<text transform="scale(0.8000,1)" x="806.2 812.9 816.32" y="30.6" font-family='"Liberation Sans", sans-serif' font-weight="normal" font-size="8.2" fill="#262626" stroke="#262626" stroke-width="0.35">Alb</text>
<line x1="625.8" y1="38.3" x2="642.6" y2="38.3" stroke="#e377c2" stroke-width="1.15"/>
<text transform="scale(0.8000,1)" x="806.08 811.31" y="41.6" font-family='"Liberation Sans", sans-serif' font-weight="normal" font-size="8.2" fill="#262626" stroke="#262626" stroke-width="0.35">PT</text>
<line x1="625.8" y1="49.2" x2="642.6" y2="49.2" stroke="#7f7f7f" stroke-width="1.15"/>
<text transform="scale(0.8000,1)" x="805.85 810.8 815.95" y="52.5" font-family='"Liberation Sans", sans-serif' font-weight="normal" font-size="8.2" fill="#262626" stroke="#262626" stroke-width="0.35">GCS</text>
<line x1="625.8" y1="60.3" x2="642.6" y2="60.3" stroke="#bcbd22" stroke-width="1.15"/>
<text transform="scale(0.8000,1)" x="806.2 811.08 815.83 820.83 827.3 832.17" y="63.6" font-family='"Liberation Sans", sans-serif' font-weight="normal" font-size="8.2" fill="#262626" stroke="#262626" stroke-width="0.35">SAPSII</text>
<line x1="625.8" y1="71.3" x2="642.6" y2="71.3" stroke="#8a8a8a" stroke-width="1.2" stroke-dasharray="3.0,1.45"/>
<text transform="translate(645.63,74.2) scale(0.9832,1)" font-family='"Liberation Sans", sans-serif' font-weight="bold" font-size="6.6" fill="#262626" >Optimum γ</text>
<text transform="translate(383.49,13) scale(0.8784,1)" font-family='"Liberation Sans", sans-serif' font-weight="normal" font-size="15.4" fill="#000" stroke="#000" stroke-width="0.3" >B</text>
<text transform="translate(531.84,242) scale(1.0207,1)" font-family='"Liberation Sans", sans-serif' font-weight="normal" font-size="8.9" fill="#262626" stroke="#262626" stroke-width="0.25" >λ</text>
<text transform="translate(361.3,161.1) rotate(-90) translate(-0.42,0) scale(0.8907,1)" font-family='"Liberation Sans", sans-serif' font-weight="bold" font-size="7.0" fill="#262626" >Regression Coefficients</text>
</svg>
</body></html>
